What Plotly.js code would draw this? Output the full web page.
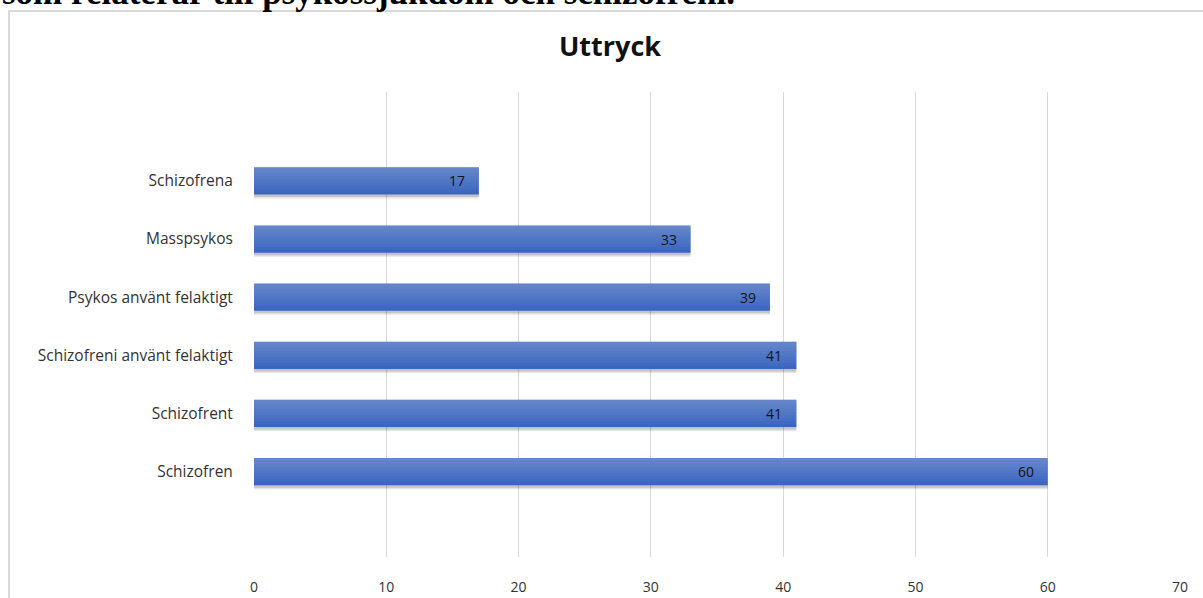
<!DOCTYPE html>
<html>
<head>
<meta charset="utf-8">
<script src="https://cdn.plot.ly/plotly-3.0.1.min.js"></script>
<style>
html,body{margin:0;padding:0;background:#fff;overflow:hidden;}
#chart{width:1203px;height:598px;}
</style>
</head>
<body>
<div id="chart"></div>
<script>
// Data (bottom to top, as Plotly draws horizontal categories)
const categories = ["Schizofren", "Schizofrent", "Schizofreni använt felaktigt", "Psykos använt felaktigt", "Masspsykos", "Schizofrena"];
const values = [60, 41, 41, 39, 33, 17];
const xTicks = [0, 10, 20, 30, 40, 50, 60, 70];
const chartTitle = "Uttryck";
const pageText = "som relaterar till psykossjukdom och schizofreni.";

const W = 1203, H = 598;
const L = 254, R = 1180, T = 92, B = 557;
const pw = R - L, ph = B - T;
const px2x = p => (p - L) / pw;
const py2y = p => (B - p) / ph;

const barW = 0.47;
const unitPx = ph / 8;
const FONT = '"Open Sans", Lato, sans-serif';

const traces = [];
// soft shadow (two layers)
[[4, 'rgba(0,0,0,0.10)'], [2.5, 'rgba(0,0,0,0.14)']].forEach(([d, col]) => {
  traces.push({
    type: 'bar', orientation: 'h', y: categories, x: values,
    width: barW, offset: -barW/2 - d/unitPx,
    marker: {color: col, line: {width: 0}},
    hoverinfo: 'skip', showlegend: false
  });
});
// main bar
traces.push({
  type: 'bar', orientation: 'h', y: categories, x: values,
  width: barW, offset: -barW/2,
  marker: {color: '#3a66c0', line: {width: 0}},
  hoverinfo: 'x+y', showlegend: false
});
// subtle vertical gradient: lighter towards the top
const steps = 8;
for (let k = 1; k <= steps; k++) {
  const frac = k / (steps + 1);
  traces.push({
    type: 'bar', orientation: 'h', y: categories, x: values,
    width: barW * (1 - frac), offset: barW/2 - barW * (1 - frac),
    marker: {color: 'rgba(255,255,255,0.03)', line: {width: 0}},
    hoverinfo: 'skip', showlegend: false
  });
}

const annotations = categories.map((c, i) => ({
  x: values[i], y: c, xref: 'x', yref: 'y',
  text: String(values[i]), showarrow: false,
  xanchor: 'right', xshift: -12,
  font: {family: FONT, size: 14, color: '#141414'}
}));
annotations.push({
  x: px2x(0), y: py2y(14), xref: 'paper', yref: 'paper',
  xanchor: 'left', yanchor: 'bottom', showarrow: false,
  text: '<b>' + pageText + '</b>',
  font: {family: '"Liberation Serif", "DejaVu Serif", serif', size: 35, color: '#000'}
});

const layout = {
  width: W, height: H,
  margin: {l: L, r: W - R, t: T, b: H - B, pad: 0},
  paper_bgcolor: '#fff', plot_bgcolor: '#fff',
  barmode: 'overlay',
  title: {
    text: '<b>' + chartTitle + '</b>',
    x: 610 / W, xref: 'container', xanchor: 'center',
    y: 1 - 47 / H, yref: 'container', yanchor: 'middle',
    font: {family: FONT, size: 27, color: '#111'}
  },
  xaxis: {
    range: [0, 70], tickvals: xTicks, ticktext: xTicks.map(String),
    showgrid: true, gridcolor: '#d9d9d9', gridwidth: 1,
    zeroline: false, showline: false,
    ticks: 'outside', ticklen: 17, tickcolor: 'rgba(0,0,0,0)',
    tickfont: {family: FONT, size: 14, color: '#333'},
    fixedrange: true
  },
  yaxis: {
    type: 'category', categoryorder: 'array', categoryarray: categories,
    range: [-1.47, 6.53],
    showgrid: false, zeroline: false, showline: false,
    ticks: 'outside', ticklen: 17, tickcolor: 'rgba(0,0,0,0)',
    tickfont: {family: FONT, size: 15.5, color: '#333'},
    fixedrange: true
  },
  shapes: [{
    type: 'rect', xref: 'paper', yref: 'paper', layer: 'below',
    x0: px2x(9), x1: px2x(1215), y0: py2y(610), y1: py2y(11),
    line: {color: '#d9d9d9', width: 2}, fillcolor: 'rgba(0,0,0,0)'
  }],
  annotations: annotations
};

Plotly.newPlot('chart', traces, layout, {displayModeBar: false, staticPlot: true});
</script>
</body>
</html>
